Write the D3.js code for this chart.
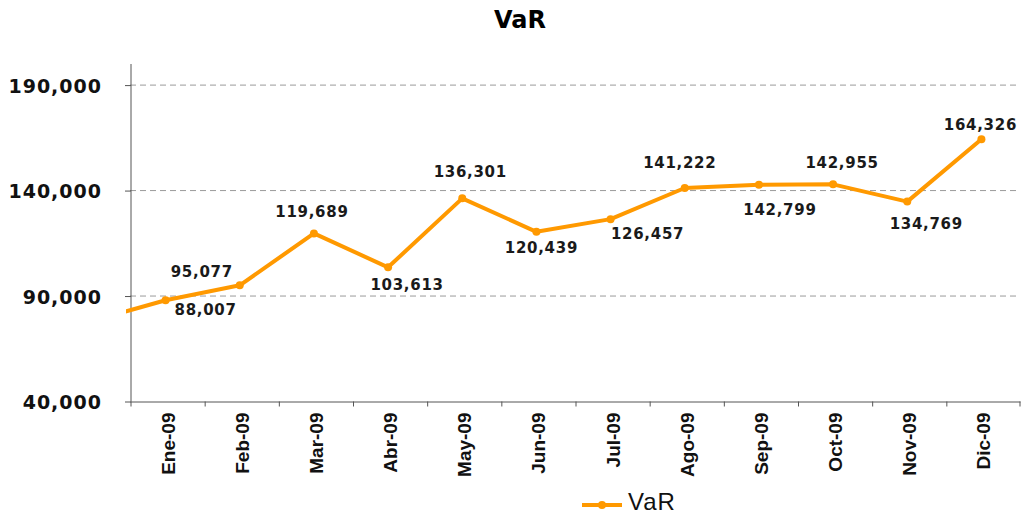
<!DOCTYPE html>
<html>
<head>
<meta charset="utf-8">
<script src="https://cdn.jsdelivr.net/npm/d3@7"></script>
<style>
  body { margin: 0; background: #fff; }
  svg { display: block; }
</style>
</head>
<body>
<div id="wrapper"></div>
<script>
// data
const months = ["Ene-09", "Feb-09", "Mar-09", "Abr-09", "May-09", "Jun-09",
                "Jul-09", "Ago-09", "Sep-09", "Oct-09", "Nov-09", "Dic-09"]
const varValues = [88007, 95077, 119689, 103613, 136301, 120439,
                   126457, 141222, 142799, 142955, 134769, 164326]
// previous month, only its segment shows at the left edge
const priorValue = 78100
const yTicks = [40000, 90000, 140000, 190000]
const seriesName = "VaR"

// label nudges [dx, dy] from each point
const labelNudge = [[40, 15], [-38, -8], [-2, -16], [19, 23], [8, -21], [5, 21],
                    [37, 20], [-5, -20], [21, 30], [9, -16], [19, 27], [-1, -9]]

const orange = "#ff9900"

let dimensions = {
    width: 1023,
    height: 516,
    margin: { top: 64, right: 3, bottom: 114.5, left: 130 },
}
dimensions.boundedWidth = dimensions.width - dimensions.margin.left - dimensions.margin.right
dimensions.boundedHeight = dimensions.height - dimensions.margin.top - dimensions.margin.bottom

const svg = d3.select("#wrapper")
  .append("svg")
    .attr("width", dimensions.width)
    .attr("height", dimensions.height)

const x = d3.scaleBand()
    .domain(months)
    .range([dimensions.margin.left, dimensions.margin.left + dimensions.boundedWidth])
const y = d3.scaleLinear()
    .domain([40000, 200000])
    .range([dimensions.margin.top + dimensions.boundedHeight, dimensions.margin.top])

const cx = m => x(m) + x.bandwidth() / 2 - 1.5

// title
svg.append("text")
    .attr("x", 520)
    .attr("y", 28)
    .attr("text-anchor", "middle")
    .style("font-family", "DejaVu Sans, Verdana, sans-serif")
    .style("font-weight", "bold")
    .style("font-size", "24px")
    .text(seriesName)

// grid
svg.append("g")
    .selectAll("line")
    .data(yTicks.filter(d => d > 40000))
    .join("line")
      .attr("x1", dimensions.margin.left)
      .attr("x2", dimensions.margin.left + dimensions.boundedWidth)
      .attr("y1", d => y(d))
      .attr("y2", d => y(d))
      .attr("stroke", "#9a9a9a")
      .attr("stroke-width", 1)
      .attr("stroke-dasharray", "6,4")

// y axis
svg.append("g")
    .attr("transform", `translate(${dimensions.margin.left + 1}, 0)`)
    .call(d3.axisLeft(y)
        .tickValues(yTicks)
        .tickSize(6)
        .tickFormat(d3.format(",")))
    .call(g => g.select(".domain").attr("stroke", "#555").attr("d",
        `M0,${y(200000)}V${y(40000)}`))
    .call(g => g.selectAll(".tick line").attr("stroke", "#555"))
    .call(g => g.selectAll(".tick text")
        .attr("x", -29)
        .attr("dy", "0.37em")
        .attr("fill", "#111")
        .style("font-family", "DejaVu Sans, Verdana, sans-serif")
        .style("font-weight", "bold")
        .style("font-size", "19px")
        .style("letter-spacing", "1px"))

// x axis
svg.append("g")
    .attr("transform", `translate(0, ${y(40000)})`)
    .call(d3.axisBottom(x).tickSize(0).tickFormat(""))
    .call(g => g.select(".domain").attr("stroke", "#555"))

svg.append("g")
    .selectAll("line")
    .data(months.concat(["end"]))
    .join("line")
      .attr("x1", (d, i) => i < months.length ? x(d) + 1 : x(months[months.length - 1]) + x.bandwidth())
      .attr("x2", (d, i) => i < months.length ? x(d) + 1 : x(months[months.length - 1]) + x.bandwidth())
      .attr("y1", y(40000))
      .attr("y2", y(40000) + 5)
      .attr("stroke", "#555")

svg.append("g")
    .selectAll("text")
    .data(months)
    .join("text")
      .attr("transform", d => `translate(${cx(d) + 9}, ${y(40000) + 11}) rotate(-90)`)
      .attr("text-anchor", "end")
      .style("font-family", "'Liberation Sans Narrow', 'Arial Narrow', sans-serif")
      .style("font-weight", "bold")
      .style("font-size", "19px")
      .attr("fill", "#111")
      .text(d => d)

// line
svg.append("clipPath")
    .attr("id", "plot-clip")
  .append("rect")
    .attr("x", dimensions.margin.left - 4)
    .attr("y", 0)
    .attr("width", dimensions.width)
    .attr("height", dimensions.height)

const points = months.map((m, i) => ({ x: cx(m), y: y(varValues[i]), v: varValues[i], i }))
const lead = { x: cx(months[0]) - x.step(), y: y(priorValue) }

svg.append("path")
    .attr("clip-path", "url(#plot-clip)")
    .attr("d", d3.line().x(d => d.x).y(d => d.y)([lead, ...points]))
    .attr("fill", "none")
    .attr("stroke", orange)
    .attr("stroke-width", 4)
    .attr("stroke-linejoin", "round")

svg.append("g")
    .selectAll("circle")
    .data(points)
    .join("circle")
      .attr("cx", d => d.x)
      .attr("cy", d => d.y)
      .attr("r", 4)
      .attr("fill", orange)

svg.append("g")
    .selectAll("text")
    .data(points)
    .join("text")
      .attr("x", d => d.x + labelNudge[d.i][0])
      .attr("y", d => d.y + labelNudge[d.i][1])
      .attr("text-anchor", "middle")
      .attr("fill", "#1a1a1a")
      .style("font-family", "DejaVu Sans, Verdana, sans-serif")
      .style("font-weight", "bold")
      .style("font-size", "15px")
      .style("letter-spacing", "0.7px")
      .text(d => d3.format(",")(d.v))

// legend
const legend = svg.append("g")
legend.append("line")
    .attr("x1", 582).attr("x2", 622)
    .attr("y1", 505).attr("y2", 505)
    .attr("stroke", orange)
    .attr("stroke-width", 4)
legend.append("circle")
    .attr("cx", 602).attr("cy", 505).attr("r", 4)
    .attr("fill", orange)
legend.append("text")
    .attr("x", 628)
    .attr("y", 510)
    .style("font-family", "Liberation Sans, Arial, sans-serif")
    .style("font-size", "24px")
    .style("letter-spacing", "1px")
    .attr("fill", "#111")
    .text(seriesName)
</script>
</body>
</html>
